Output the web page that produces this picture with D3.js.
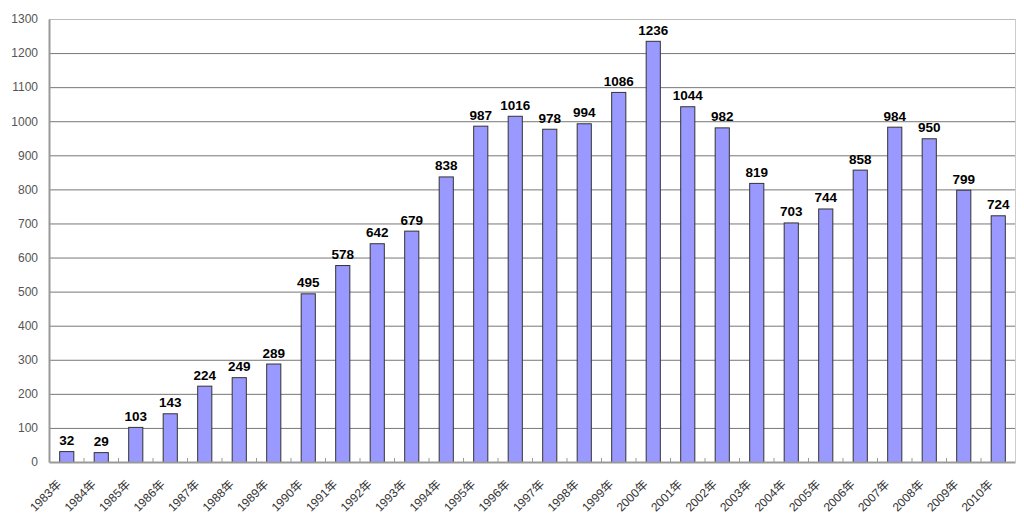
<!DOCTYPE html>
<html><head><meta charset="utf-8">
<script src="https://cdn.jsdelivr.net/npm/d3@7"></script>
<style>body{margin:0;background:#fff}svg{display:block}</style>
</head><body>
<svg id="c" width="1024" height="523"></svg>
<script>
const years = [1983,1984,1985,1986,1987,1988,1989,1990,1991,1992,1993,1994,1995,1996,1997,1998,1999,2000,2001,2002,2003,2004,2005,2006,2007,2008,2009,2010];
const categories = years.map(y => y + "年");
const values = [32,29,103,143,224,249,289,495,578,642,679,838,987,1016,978,994,1086,1236,1044,982,819,703,744,858,984,950,799,724];
const yTicks = [0,100,200,300,400,500,600,700,800,900,1000,1100,1200,1300];

const svg = d3.select("#c");
const m = {l:49, r:1015, t:19, b:462};
const x = d3.scaleBand().domain(categories).range([m.l, m.r]).paddingInner(0.59).paddingOuter(0.295);
const xb = d3.scaleBand().domain(categories).range([m.l, m.r]);
const y = d3.scaleLinear().domain([0,1300]).range([m.b, m.t]);

// gridlines
svg.append("g").selectAll("line").data(yTicks.filter(d=>d>0)).join("line")
  .attr("x1", m.l).attr("x2", m.r).attr("y1", d=>y(d)+0.5).attr("y2", d=>y(d)+0.5)
  .attr("stroke", d=> d===1300 ? "#bbb" : "#777").attr("stroke-width", 1);
// right border
svg.append("line").attr("x1", m.r+0.5).attr("x2", m.r+0.5).attr("y1", m.t).attr("y2", m.b)
  .attr("stroke","#ccc");

// bars
svg.append("g").selectAll("rect").data(values).join("rect")
  .attr("x", (d,i)=>x(categories[i])+0.5)
  .attr("y", d=>y(d)+0.5)
  .attr("width", x.bandwidth())
  .attr("height", d=>m.b - y(d))
  .attr("fill", "#9999ff").attr("stroke", "#333").attr("stroke-width", 1);

// value labels
svg.append("g").selectAll("text").data(values).join("text")
  .attr("x", (d,i)=>x(categories[i]) + x.bandwidth()/2 + 0.5)
  .attr("y", d=>y(d) - 6)
  .attr("text-anchor","middle")
  .attr("font-family","'Liberation Sans', Arial, sans-serif").attr("font-weight","bold")
  .attr("font-size", 13.5).attr("fill","#000")
  .text(d=>d);

// y axis
const ya = d3.axisLeft(y).tickValues(yTicks).tickSize(0).tickPadding(11).tickFormat(d3.format("d"));
const gy = svg.append("g").attr("transform",`translate(${m.l},0)`).call(ya);
gy.select(".domain").attr("stroke","#999").attr("stroke-width",2);
gy.selectAll("text").attr("font-family","'Liberation Sans', Arial, sans-serif").attr("font-size",12).attr("fill","#555");

// x axis
const xa = d3.axisBottom(xb).tickSize(0).tickFormat(d=>d);
const gx = svg.append("g").attr("transform",`translate(0,${m.b})`).call(xa);
gx.select(".domain").attr("stroke","#999").attr("stroke-width",2);
gx.selectAll(".tick text").attr("font-family","'Liberation Sans', 'Noto Sans CJK JP', sans-serif")
  .attr("font-size",12).attr("fill","#333")
  .attr("text-anchor","end").attr("dy",0).attr("y",0)
  .attr("transform","translate(-4,23) rotate(-45)");
// boundary ticks pointing up
svg.append("g").selectAll("line").data(categories.slice(1)).join("line")
  .attr("x1", d=>xb(d)+0.5).attr("x2", d=>xb(d)+0.5).attr("y1", m.b-4).attr("y2", m.b)
  .attr("stroke","#999");
</script>
</body></html>
